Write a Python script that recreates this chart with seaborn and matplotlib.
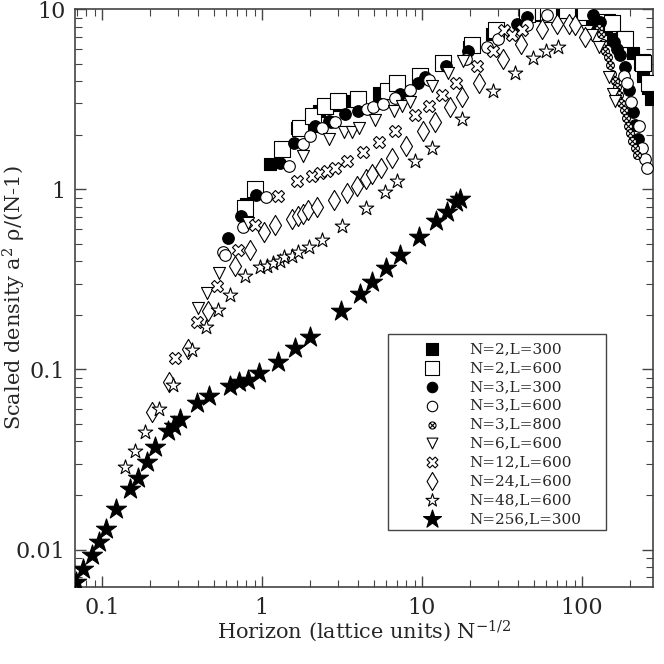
import numpy as np
import pandas as pd
import matplotlib
matplotlib.use("Agg")
import matplotlib.pyplot as plt
from matplotlib.path import Path
from matplotlib.patches import Rectangle
import matplotlib.ticker as mticker
import seaborn as sns

sns.set_theme(style="white")
plt.rcParams['font.family'] = ['DejaVu Serif']
plt.rcParams['mathtext.fontset'] = 'dejavuserif'

# ---------------- data ----------------
labels = ["N=2,L=300", "N=2,L=600", "N=3,L=300", "N=3,L=600", "N=3,L=800",
          "N=6,L=600", "N=12,L=600", "N=24,L=600", "N=48,L=600", "N=256,L=300"]

n2l300_x = [0.798, 1.12, 1.65, 2.10, 2.29, 2.91, 3.65, 5.43, 7.14, 9.86, 13.6, 19.8, 27.4,
            43.8, 54.1, 64.9, 78.6, 93.0, 115, 129, 142, 156, 174, 208, 240, 257, 270]
n2l300_y = [0.825, 1.38, 2.18, 2.25, 2.71, 2.95, 3.08, 3.41, 3.72, 4.23, 5.08, 6.15, 7.25,
            8.79, 9.31, 9.55, 9.6, 9.6, 8.49, 8.49, 7.79, 6.85, 6.85, 5.70, 4.28, 3.65, 3.17]

n2l600_x = [0.787, 0.908, 1.33, 1.72, 2.10, 2.49, 3.01, 3.96, 6.1, 7.04, 9.75, 13.5, 20.5, 29.1,
            45.3, 57.5, 61.8, 80.5, 105, 143, 155, 182, 187, 237, 240, 261]
n2l600_y = [0.791, 1.0, 1.67, 2.19, 2.56, 2.91, 3.08, 3.17, 3.53, 3.88, 4.28, 5.01, 6.37, 7.63,
            9.44, 9.6, 9.44, 9.9, 9.6, 8.49, 8.41, 6.85, 6.8, 5.08, 5.03, 3.9]

n3l300_x = [0.618, 0.739, 0.921, 1.29, 1.58, 2.15, 2.61, 2.70, 3.31, 3.96, 5.35, 7.25, 9.39,
            10.5, 14.2, 19.5, 39.2, 45.3, 118, 129, 158, 166, 174, 187, 198, 208, 215, 223]
n3l300_y = [0.538, 0.711, 0.931, 1.41, 1.80, 2.25, 2.40, 2.38, 2.62, 2.73, 3.0, 3.38, 3.88,
            4.19, 4.87, 5.90, 8.3, 9.05, 9.31, 8.49, 6.57, 6.03, 5.54, 4.76, 3.58, 2.68, 2.27, 1.90]

n3l600_x = [0.575, 0.585, 0.76, 1.06, 1.47, 1.80, 2.0, 2.37, 2.87, 4.53, 4.94, 5.75, 6.81, 8.45,
            11.0, 18.9, 25.5, 29.7, 45.3, 60.4, 182, 191, 202, 229, 237, 249, 255]
n3l600_y = [0.45, 0.43, 0.617, 0.911, 1.35, 1.78, 1.98, 2.19, 2.38, 2.79, 2.85, 2.98, 3.21, 3.56,
            4.05, 5.3, 6.21, 6.85, 8.2, 9.25, 4.25, 3.89, 3.04, 2.24, 1.69, 1.47, 1.32]

n3l800_x = [127, 131, 136, 140, 145, 150, 155, 160, 165, 170, 176, 182, 188, 194, 200, 207, 214, 221]
n3l800_y = [7.9, 7.3, 6.5, 5.9, 5.4, 4.9, 4.4, 4.0, 3.7, 3.35, 3.0, 2.75, 2.5, 2.25, 2.05, 1.85, 1.7, 1.55]

n6_x = [0.398, 0.453, 0.543, 0.824, 1.80, 2.61, 3.24, 3.65, 4.07, 5.11, 6.71, 7.5, 8.45, 11.5,
        14.5, 18.0, 107, 115, 127, 147, 156, 161]
n6_y = [0.219, 0.266, 0.343, 0.647, 1.53, 1.90, 2.07, 2.07, 2.19, 2.42, 2.71, 2.91, 3.04, 3.77,
        4.41, 5.14, 7.62, 7.16, 6.15, 4.23, 3.38, 3.08]

n12_x = [0.287, 0.393, 0.523, 0.714, 0.908, 1.27, 1.67, 2.05, 2.31, 2.55, 2.87, 3.40, 4.31, 5.43,
         6.81, 9.08, 11.0, 13.3, 16.4, 22.1, 28.0, 32.4, 36.5, 42.2]
n12_y = [0.1165, 0.183, 0.29, 0.463, 0.638, 0.919, 1.12, 1.19, 1.24, 1.27, 1.32, 1.44, 1.62, 1.84,
         2.11, 2.60, 2.91, 3.36, 3.88, 4.87, 5.90, 7.63, 7.16, 7.63]

n24_x = [0.205, 0.261, 0.348, 0.464, 0.681, 0.845, 1.03, 1.21, 1.54, 1.68, 1.82, 1.95, 2.21,
         2.83, 3.40, 3.92, 4.49, 4.87, 5.54, 6.49, 7.98, 10.2, 12.1, 14.9, 17.8, 22.6, 32.1,
         41.6, 56.2, 69.8, 82.5, 90.8, 105]
n24_y = [0.0583, 0.0849, 0.130, 0.212, 0.374, 0.463, 0.581, 0.638, 0.681, 0.711, 0.732, 0.764,
         0.798, 0.869, 0.96, 1.04, 1.14, 1.22, 1.32, 1.50, 1.74, 2.11, 2.38, 2.85, 3.24, 3.88,
         5.3, 6.42, 7.79, 8.3, 8.3, 8.13, 7.0]

n48_x = [0.140, 0.162, 0.187, 0.229, 0.280, 0.368, 0.449, 0.535, 0.634, 0.79, 0.975, 1.08, 1.18,
         1.29, 1.38, 1.54, 1.69, 1.98, 2.37, 3.19, 4.49, 5.84, 6.98, 9.08, 11.5, 17.8, 27.8,
         38.3, 49.4, 59.8, 71.4]
n48_y = [0.0288, 0.0353, 0.0451, 0.0603, 0.082, 0.1285, 0.172, 0.2145, 0.26, 0.332, 0.37, 0.374,
         0.391, 0.399, 0.42, 0.426, 0.45, 0.478, 0.526, 0.625, 0.791, 0.971, 1.12, 1.43, 1.69,
         2.45, 3.53, 4.41, 5.37, 5.9, 6.15]

n256_x = [0.069, 0.0767, 0.0866, 0.0962, 0.106, 0.123, 0.149, 0.168, 0.191, 0.215, 0.259, 0.283,
          0.309, 0.393, 0.469, 0.634, 0.721, 0.818, 0.966, 1.26, 1.61, 2.0, 3.12, 4.12, 4.87,
          5.98, 7.32, 9.66, 12.3, 14.3, 16.3, 17.2]
n256_y = [0.0066, 0.0078, 0.0093, 0.011, 0.0130, 0.0167, 0.0216, 0.0251, 0.0307, 0.0369, 0.0454,
          0.0487, 0.053, 0.0648, 0.0711, 0.0813, 0.0849, 0.0874, 0.0953, 0.110, 0.131, 0.152,
          0.212, 0.262, 0.306, 0.366, 0.431, 0.543, 0.667, 0.748, 0.85, 0.89]

xs = [n2l300_x, n2l600_x, n3l300_x, n3l600_x, n3l800_x, n6_x, n12_x, n24_x, n48_x, n256_x]
ys = [n2l300_y, n2l600_y, n3l300_y, n3l600_y, n3l800_y, n6_y, n12_y, n24_y, n48_y, n256_y]

x_ticks = [0.1, 1, 10, 100]
x_ticklabels = ["0.1", "1", "10", "100"]
y_ticks = [0.01, 0.1, 1, 10]
y_ticklabels = ["0.01", "0.1", "1", "10"]

# ---------------- styles ----------------
otimes = Path.make_compound_path(
    Path.unit_circle(),
    Path([[-0.7, -0.7], [0.7, 0.7]], [Path.MOVETO, Path.LINETO]),
    Path([[-0.7, 0.7], [0.7, -0.7]], [Path.MOVETO, Path.LINETO]),
)
styles = [
    dict(marker="s", s=80, fc="black"),
    dict(marker="s", s=125, fc="white"),
    dict(marker="o", s=70, fc="black"),
    dict(marker="o", s=70, fc="white"),
    dict(marker=otimes, s=32, fc="white"),
    dict(marker="v", s=75, fc="white"),
    dict(marker="X", s=75, fc="white"),
    dict(marker="d", s=105, fc="white"),
    dict(marker="*", s=120, fc="white"),
    dict(marker="*", s=230, fc="black"),
]

fig = plt.figure(figsize=(6.64, 6.64), dpi=100)
ax = fig.add_axes([0.113, 0.116, 0.870, 0.870])

for lab, x, y, st in zip(labels, xs, ys, styles):
    df = pd.DataFrame({"x": x, "y": y})
    sns.scatterplot(data=df, x="x", y="y", ax=ax, marker=st["marker"], s=st["s"],
                    color=st["fc"], edgecolor="black", linewidth=0.8, label=lab,
                    zorder=3)

ax.set_xscale("log")
ax.set_yscale("log")
ax.set_xlim(0.068, 277)
ax.set_ylim(0.0062, 10)

ax.set_xticks(x_ticks)
ax.set_xticklabels(x_ticklabels)
ax.set_yticks(y_ticks)
ax.set_yticklabels(y_ticklabels)
ax.xaxis.set_minor_locator(mticker.LogLocator(base=10, subs=np.arange(2, 10), numticks=20))
ax.yaxis.set_minor_locator(mticker.LogLocator(base=10, subs=np.arange(2, 10), numticks=20))
ax.xaxis.set_minor_formatter(mticker.NullFormatter())
ax.yaxis.set_minor_formatter(mticker.NullFormatter())
ax.tick_params(which="both", direction="in", top=True, right=True, bottom=True, left=True,
               color="#444444", labelsize=16, pad=7)
ax.tick_params(which="major", length=8, width=1)
ax.tick_params(which="minor", length=5, width=0.8)
for sp in ax.spines.values():
    sp.set_color("#444444")
    sp.set_linewidth(1.2)

ax.set_xlabel(r"Horizon (lattice units) N$^{\mathregular{-1/2}}$", fontsize=15)
ax.set_ylabel(r"Scaled density a$^{\mathregular{2}}$ ρ/(N-1)", fontsize=15)
ax.xaxis.set_label_coords(0.5, -0.054)
ax.yaxis.set_label_coords(-0.082, 0.5)

leg = ax.legend(loc="upper left", bbox_to_anchor=(0.591, 0.424), borderaxespad=0,
                frameon=False, fontsize=11, labelspacing=0.32, borderpad=0,
                handlelength=2.0, handletextpad=1.48, markerscale=0.9)
ax.add_patch(Rectangle((0.5415, 0.0986), 0.377, 0.339, transform=ax.transAxes,
                       fill=True, facecolor="white", edgecolor="#444444", linewidth=1.0,
                       zorder=4))
leg.set_zorder(5)

fig.savefig("out.png", dpi=100)
